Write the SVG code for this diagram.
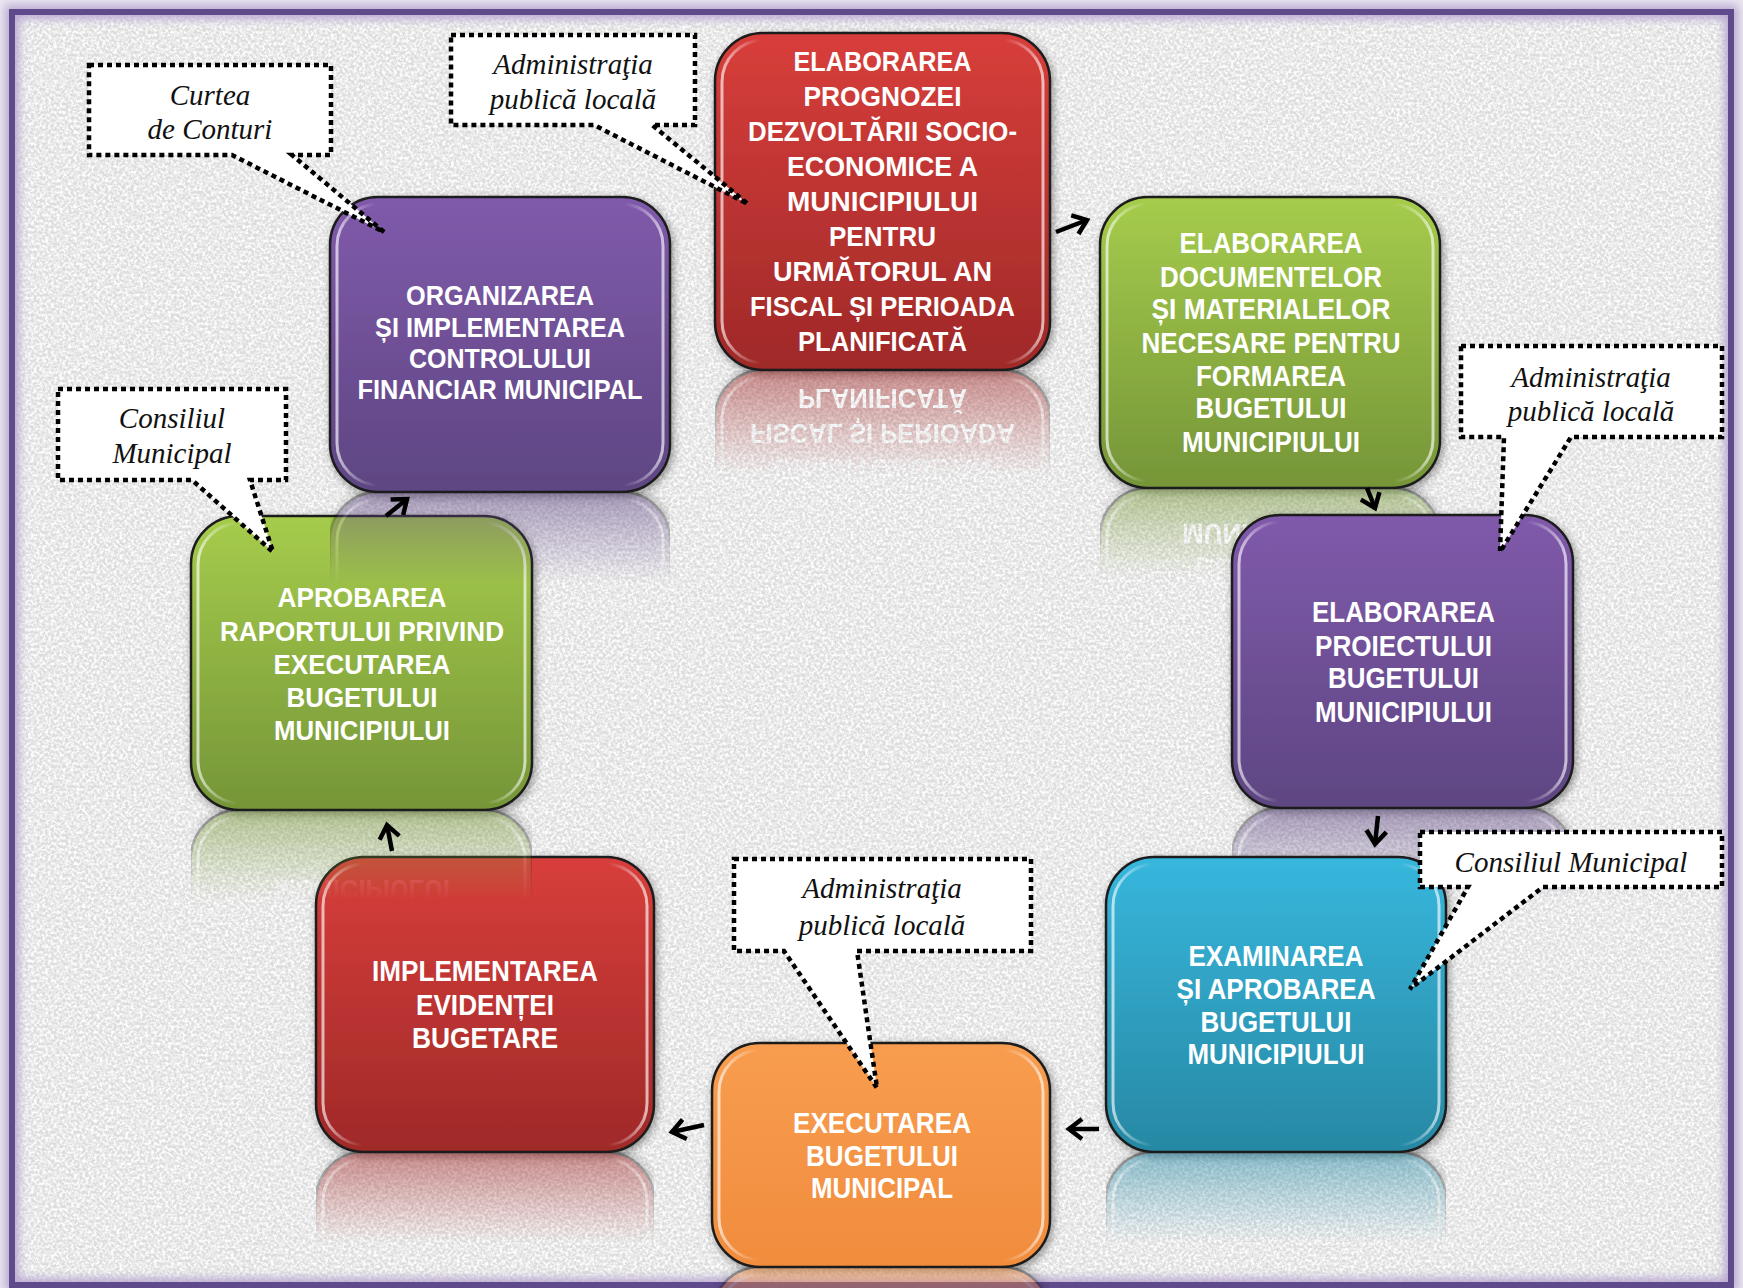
<svg xmlns="http://www.w3.org/2000/svg" xmlns:xlink="http://www.w3.org/1999/xlink" width="1743" height="1288" viewBox="0 0 1743 1288">
<defs>
<style>
.box{stroke:#1b1b1b;stroke-width:2.5;filter:url(#sh)}
.hl{fill:none;stroke:url(#hlG);stroke-width:3}
.t{font-family:"Liberation Sans",Arial,sans-serif;font-weight:bold;fill:#ffffff;text-anchor:middle}
.s30{font-size:30px}
.s28{font-size:28px}
.c{font-family:"Liberation Serif","Times New Roman",serif;font-style:italic;font-size:29px;fill:#111111;text-anchor:middle}
.call{fill:#ffffff;stroke:#000000;stroke-width:4.5;stroke-dasharray:5 4;stroke-linejoin:miter}
.arr{fill:none;stroke:#000000;stroke-width:4.5;marker-end:url(#ah)}
</style>
<linearGradient id="gRed" x1="0" y1="0" x2="0" y2="1"><stop offset="0" stop-color="#d83e3b"/><stop offset="1" stop-color="#9f2928"/></linearGradient>
<linearGradient id="gGreen" x1="0" y1="0" x2="0" y2="1"><stop offset="0" stop-color="#a6cc4c"/><stop offset="1" stop-color="#759538"/></linearGradient>
<linearGradient id="gPurple" x1="0" y1="0" x2="0" y2="1"><stop offset="0" stop-color="#805aab"/><stop offset="1" stop-color="#5e4682"/></linearGradient>
<linearGradient id="gBlue" x1="0" y1="0" x2="0" y2="1"><stop offset="0" stop-color="#37b7dd"/><stop offset="1" stop-color="#2788a3"/></linearGradient>
<linearGradient id="gOrange" x1="0" y1="0" x2="0" y2="1"><stop offset="0" stop-color="#f89d4f"/><stop offset="1" stop-color="#f18c3d"/></linearGradient>
<linearGradient id="hlG" x1="0" y1="0" x2="1" y2="0">
<stop offset="0" stop-color="#ffffff" stop-opacity="0.65"/>
<stop offset="0.05" stop-color="#ffffff" stop-opacity="0.35"/>
<stop offset="0.12" stop-color="#ffffff" stop-opacity="0"/>
<stop offset="0.88" stop-color="#ffffff" stop-opacity="0"/>
<stop offset="0.95" stop-color="#ffffff" stop-opacity="0.35"/>
<stop offset="1" stop-color="#ffffff" stop-opacity="0.65"/>
</linearGradient>
<linearGradient id="fadeG" x1="0" y1="0" x2="0" y2="1"><stop offset="0" stop-color="#ffffff" stop-opacity="0.5"/><stop offset="0.31" stop-color="#ffffff" stop-opacity="0"/></linearGradient>
<mask id="fade" maskContentUnits="objectBoundingBox"><rect x="0" y="0" width="1" height="1" fill="url(#fadeG)"/></mask>
<filter id="sh" x="-10%" y="-10%" width="125%" height="125%"><feDropShadow dx="2" dy="3" stdDeviation="4" flood-color="#000000" flood-opacity="0.4"/></filter>
<filter id="paper" x="0" y="0" width="100%" height="100%">
<feTurbulence type="fractalNoise" baseFrequency="0.35" numOctaves="4" seed="7" result="n"/>
<feColorMatrix in="n" type="matrix" values="0 0 0 0 1  0 0 0 0 1  0 0 0 0 1  2.6 0 0 0 -0.9"/>
</filter>
<filter id="glow" x="-5%" y="-5%" width="110%" height="110%"><feGaussianBlur stdDeviation="5"/></filter>
<marker id="ah" markerUnits="userSpaceOnUse" viewBox="0 0 20 20" markerWidth="20" markerHeight="20" refX="16" refY="10" orient="auto" overflow="visible"><path d="M3,0 L16,10 L3,20" fill="none" stroke="#000000" stroke-width="4.5"/></marker>
</defs>

<g id="background">
<rect x="0" y="0" width="1743" height="1288" fill="#ebe7f0"/>
<rect x="12" y="12" width="1719" height="1273" fill="#dcdcdc"/>
<rect x="12" y="12" width="1719" height="1273" fill="#ffffff" filter="url(#paper)"/>
<rect x="12" y="12" width="1719" height="1273" fill="none" stroke="#b9a9d2" stroke-width="14" filter="url(#glow)"/>
<rect x="12" y="12" width="1719" height="1273" fill="none" stroke="#5f4b8b" stroke-width="6"/>
</g>

<g id="nodes">
<g id="node-1">
<g id="b1">
<rect class="box" x="715" y="33" width="335" height="337" rx="48" fill="url(#gRed)"/>
<rect class="hl" x="722" y="40" width="321" height="323" rx="42"/>
<text class="t s28" x="882.5" y="71" textLength="178" lengthAdjust="spacingAndGlyphs">ELABORAREA</text>
<text class="t s28" x="882.5" y="106" textLength="158" lengthAdjust="spacingAndGlyphs">PROGNOZEI</text>
<text class="t s28" x="882.5" y="141" textLength="269" lengthAdjust="spacingAndGlyphs">DEZVOLTĂRII SOCIO-</text>
<text class="t s28" x="882.5" y="176" textLength="191" lengthAdjust="spacingAndGlyphs">ECONOMICE A</text>
<text class="t s28" x="882.5" y="211" textLength="191" lengthAdjust="spacingAndGlyphs">MUNICIPIULUI</text>
<text class="t s28" x="882.5" y="246" textLength="107" lengthAdjust="spacingAndGlyphs">PENTRU</text>
<text class="t s28" x="882.5" y="281" textLength="219" lengthAdjust="spacingAndGlyphs">URMĂTORUL AN</text>
<text class="t s28" x="882.5" y="316" textLength="265" lengthAdjust="spacingAndGlyphs">FISCAL ȘI PERIOADA</text>
<text class="t s28" x="882.5" y="351" textLength="169" lengthAdjust="spacingAndGlyphs">PLANIFICATĂ</text>
</g>
<g mask="url(#fade)"><use href="#b1" xlink:href="#b1" transform="matrix(1 0 0 -1 0 740)"/></g>
</g>

<g id="node-2">
<g id="b2">
<rect class="box" x="1100" y="197" width="340" height="291" rx="48" fill="url(#gGreen)"/>
<rect class="hl" x="1107" y="204" width="326" height="277" rx="42"/>
<text class="t s30" x="1271" y="253" textLength="183" lengthAdjust="spacingAndGlyphs">ELABORAREA</text>
<text class="t s30" x="1271" y="287" textLength="222" lengthAdjust="spacingAndGlyphs">DOCUMENTELOR</text>
<text class="t s30" x="1271" y="319" textLength="239" lengthAdjust="spacingAndGlyphs">ȘI MATERIALELOR</text>
<text class="t s30" x="1271" y="353" textLength="259" lengthAdjust="spacingAndGlyphs">NECESARE PENTRU</text>
<text class="t s30" x="1271" y="386" textLength="150" lengthAdjust="spacingAndGlyphs">FORMAREA</text>
<text class="t s30" x="1271" y="418" textLength="151" lengthAdjust="spacingAndGlyphs">BUGETULUI</text>
<text class="t s30" x="1271" y="452" textLength="178" lengthAdjust="spacingAndGlyphs">MUNICIPIULUI</text>
</g>
<g mask="url(#fade)"><use href="#b2" xlink:href="#b2" transform="matrix(1 0 0 -1 0 976)"/></g>
</g>

<g id="node-3">
<g id="b3">
<rect class="box" x="1232" y="515" width="341" height="293" rx="48" fill="url(#gPurple)"/>
<rect class="hl" x="1239" y="522" width="327" height="279" rx="42"/>
<text class="t s30" x="1403.5" y="622" textLength="183" lengthAdjust="spacingAndGlyphs">ELABORAREA</text>
<text class="t s30" x="1403.5" y="656" textLength="177" lengthAdjust="spacingAndGlyphs">PROIECTULUI</text>
<text class="t s30" x="1403.5" y="688" textLength="151" lengthAdjust="spacingAndGlyphs">BUGETULUI</text>
<text class="t s30" x="1403.5" y="722" textLength="177" lengthAdjust="spacingAndGlyphs">MUNICIPIULUI</text>
</g>
<g mask="url(#fade)"><use href="#b3" xlink:href="#b3" transform="matrix(1 0 0 -1 0 1616)"/></g>
</g>

<g id="node-4">
<g id="b4">
<rect class="box" x="1106" y="857" width="340" height="295" rx="48" fill="url(#gBlue)"/>
<rect class="hl" x="1113" y="864" width="326" height="281" rx="42"/>
<text class="t s30" x="1276" y="966" textLength="175" lengthAdjust="spacingAndGlyphs">EXAMINAREA</text>
<text class="t s30" x="1276" y="999" textLength="199" lengthAdjust="spacingAndGlyphs">ȘI APROBAREA</text>
<text class="t s30" x="1276" y="1032" textLength="151" lengthAdjust="spacingAndGlyphs">BUGETULUI</text>
<text class="t s30" x="1276" y="1064" textLength="177" lengthAdjust="spacingAndGlyphs">MUNICIPIULUI</text>
</g>
<g mask="url(#fade)"><use href="#b4" xlink:href="#b4" transform="matrix(1 0 0 -1 0 2304)"/></g>
</g>

<g id="node-5">
<g id="b5">
<rect class="box" x="712" y="1043" width="338" height="224" rx="48" fill="url(#gOrange)"/>
<rect class="hl" x="719" y="1050" width="324" height="210" rx="42"/>
<text class="t s30" x="882" y="1133" textLength="178" lengthAdjust="spacingAndGlyphs">EXECUTAREA</text>
<text class="t s30" x="882" y="1166" textLength="152" lengthAdjust="spacingAndGlyphs">BUGETULUI</text>
<text class="t s30" x="882" y="1198" textLength="142" lengthAdjust="spacingAndGlyphs">MUNICIPAL</text>
</g>
<g mask="url(#fade)"><use href="#b5" xlink:href="#b5" transform="matrix(1 0 0 -1 0 2534)"/></g>
</g>

<g id="node-6">
<g id="b6">
<rect class="box" x="316" y="857" width="338" height="295" rx="48" fill="url(#gRed)"/>
<rect class="hl" x="323" y="864" width="324" height="281" rx="42"/>
<text class="t s30" x="485" y="981" textLength="226" lengthAdjust="spacingAndGlyphs">IMPLEMENTAREA</text>
<text class="t s30" x="485" y="1015" textLength="138" lengthAdjust="spacingAndGlyphs">EVIDENȚEI</text>
<text class="t s30" x="485" y="1048" textLength="146" lengthAdjust="spacingAndGlyphs">BUGETARE</text>
</g>
<g mask="url(#fade)"><use href="#b6" xlink:href="#b6" transform="matrix(1 0 0 -1 0 2304)"/></g>
</g>

<g id="node-7">
<g id="b7">
<rect class="box" x="191" y="516" width="341" height="294" rx="48" fill="url(#gGreen)"/>
<rect class="hl" x="198" y="523" width="327" height="280" rx="42"/>
<text class="t s28" x="362" y="607" textLength="169" lengthAdjust="spacingAndGlyphs">APROBAREA</text>
<text class="t s28" x="362" y="641" textLength="284" lengthAdjust="spacingAndGlyphs">RAPORTULUI PRIVIND</text>
<text class="t s28" x="362" y="674" textLength="177" lengthAdjust="spacingAndGlyphs">EXECUTAREA</text>
<text class="t s28" x="362" y="707" textLength="151" lengthAdjust="spacingAndGlyphs">BUGETULUI</text>
<text class="t s28" x="362" y="740" textLength="176" lengthAdjust="spacingAndGlyphs">MUNICIPIULUI</text>
</g>
<g mask="url(#fade)"><use href="#b7" xlink:href="#b7" transform="matrix(1 0 0 -1 0 1620)"/></g>
</g>

<g id="node-8">
<g id="b8">
<rect class="box" x="330" y="197" width="340" height="295" rx="48" fill="url(#gPurple)"/>
<rect class="hl" x="337" y="204" width="326" height="281" rx="42"/>
<text class="t s28" x="500" y="305" textLength="188" lengthAdjust="spacingAndGlyphs">ORGANIZAREA</text>
<text class="t s28" x="500" y="337" textLength="250" lengthAdjust="spacingAndGlyphs">ȘI IMPLEMENTAREA</text>
<text class="t s28" x="500" y="368" textLength="182" lengthAdjust="spacingAndGlyphs">CONTROLULUI</text>
<text class="t s28" x="500" y="399" textLength="285" lengthAdjust="spacingAndGlyphs">FINANCIAR MUNICIPAL</text>
</g>
<g mask="url(#fade)"><use href="#b8" xlink:href="#b8" transform="matrix(1 0 0 -1 0 984)"/></g>
</g>
</g>

<g id="connectors">
<path class="arr" d="M1056,232 L1087,220"/>
<path class="arr" d="M1367,488 L1375,508"/>
<path class="arr" d="M1378,816 L1375,844"/>
<path class="arr" d="M1099,1129 L1069,1129"/>
<path class="arr" d="M704,1125 L672,1132"/>
<path class="arr" d="M392,851 L387,825"/>
<path class="arr" d="M386,516 L407,499"/>
</g>

<g id="callouts">
<g id="callout-curtea">
<path class="call" d="M89,65 H331 V155 H292 L384,232 L232,155 H89 Z"/>
<text class="c" x="210" y="105">Curtea</text>
<text class="c" x="210" y="139">de Conturi</text>
</g>
<g id="callout-apl-top">
<path class="call" d="M451,35 H695 V125 H652 L748,204 L594,125 H451 Z"/>
<text class="c" x="573" y="74">Administraţia</text>
<text class="c" x="573" y="109">publică locală</text>
</g>
<g id="callout-cm-left">
<path class="call" d="M58,389 H286 V480 H250 L273,552 L192,480 H58 Z"/>
<text class="c" x="172" y="428">Consiliul</text>
<text class="c" x="172" y="463">Municipal</text>
</g>
<g id="callout-apl-right">
<path class="call" d="M1461,346 H1722 V437 H1571 L1500,552 L1504,437 H1461 Z"/>
<text class="c" x="1591" y="387">Administraţia</text>
<text class="c" x="1591" y="421">publică locală</text>
</g>
<g id="callout-cm-right">
<path class="call" d="M1420,832 H1722 V887 H1543 L1410,989 L1468,887 H1420 Z"/>
<text class="c" x="1571" y="872">Consiliul Municipal</text>
</g>
<g id="callout-apl-bottom">
<path class="call" d="M734,859 H1031 V951 H857 L877,1088 L784,951 H734 Z"/>
<text class="c" x="882" y="898">Administraţia</text>
<text class="c" x="882" y="935">publică locală</text>
</g>
</g>
</svg>
